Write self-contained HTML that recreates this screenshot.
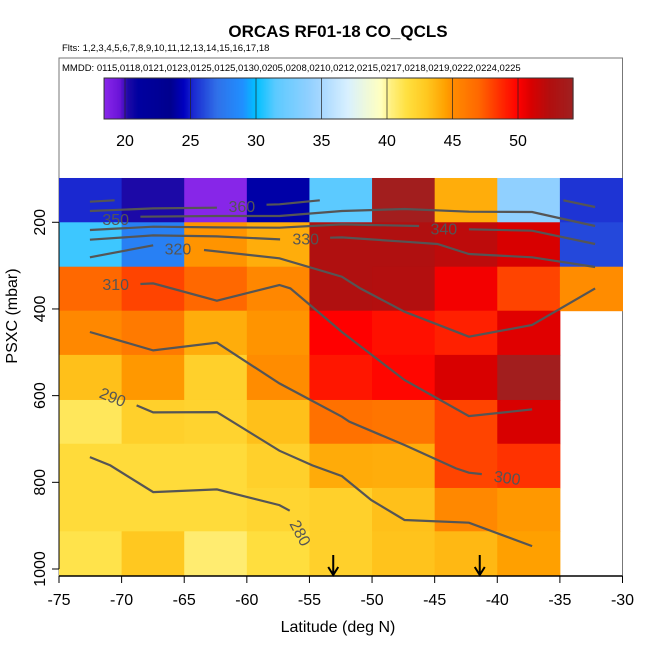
<!DOCTYPE html>
<html><head><meta charset="utf-8"><style>
body{margin:0;background:#fff}
svg{display:block;font-family:"Liberation Sans",sans-serif}
</style></head><body>
<svg id="chart" width="650" height="650" viewBox="0 0 650 650">
<text x="338" y="37" font-size="17" font-weight="bold" text-anchor="middle">ORCAS RF01-18 CO_QCLS</text>
<text x="62" y="51" font-size="9.5">Flts: 1,2,3,4,5,6,7,8,9,10,11,12,13,14,15,16,17,18</text>
<rect x="59" y="58" width="563.5" height="518" fill="none" stroke="#777" stroke-width="1"/>
<text x="62" y="71" font-size="9.5">MMDD: 0115,0118,0121,0123,0125,0125,0130,0205,0208,0210,0212,0215,0217,0218,0219,0222,0224,0225</text>
<g id="cbar"></g>
<g id="cells"></g>
<g id="contours"></g>
<g id="axes"></g>
<text x="338" y="632" font-size="16" text-anchor="middle">Latitude (deg N)</text>
<text transform="translate(17,316) rotate(-90)" font-size="16" text-anchor="middle">PSXC (mbar)</text>
</svg>
<script>
const latEdges = [-75,-70,-65,-60,-55,-50,-45,-40,-35,-30];
const presEdges = [97.8,200,302.5,404,506,610,711,813,913,1016];
const coValues = [
 [25.2,20.3,18.5,24.0,31.5,54.0,44.0,34.0,25.5],
 [31.0,28.0,44.8,44.0,52.5,52.5,52.0,51.0,26.0],
 [47.0,48.0,47.0,45.3,52.5,52.4,50.3,48.0,45.0],
 [45.2,46.0,44.0,44.8,50.0,49.5,49.0,50.8,null],
 [43.3,44.7,42.5,45.0,49.3,49.8,51.0,54.0,null],
 [41.0,42.5,42.3,43.3,46.5,46.3,48.0,51.0,null],
 [41.8,41.8,41.8,42.5,44.1,44.0,48.0,48.5,null],
 [41.8,41.8,41.8,42.2,42.5,43.3,45.2,44.7,null],
 [41.3,43.0,40.6,41.6,42.5,43.2,43.6,44.5,null]
];
const xTicks = [-75,-70,-65,-60,-55,-50,-45,-40,-35,-30];
const yTicks = [200,400,600,800,1000];
const cbTicks = [20,25,30,35,40,45,50];
const arrowLats = [-53.1,-41.4];
const contourLevels = [360,360,360,360,350,340,340,330,330,320,320,310,300,290,280];
const contourLats = [
 [-72.53,-70.56],
 [-72.53,-67.48,-62.39],
 [-58.43,-57.4,-54.17],
 [-34.72,-32.19],
 [-68.5,-62.39,-57.4,-52.41,-47.41,-42.27,-37.22,-34.72,-32.19],
 [-72.53,-67.48,-62.39,-57.4,-52.41,-46.24],
 [-42.27,-37.22,-32.19],
 [-72.53,-67.48,-62.39,-57.34],
 [-53.35,-52.41,-47.41,-44.77,-42.27,-37.22,-32.19],
 [-72.53,-67.48],
 [-63.42,-57.4,-52.41,-50.94,-47.41,-42.27,-37.22,-32.19],
 [-68.5,-67.48,-62.39,-57.4,-56.52,-52.41,-47.41,-42.27,-37.22],
 [-72.53,-67.48,-62.39,-57.4,-52.41,-51.82,-47.41,-43.3,-42.27,-41.24],
 [-68.8,-67.48,-62.39,-57.4,-54.76,-52.41,-50.06,-47.41,-42.27,-37.22],
 [-72.53,-70.9,-67.48,-62.39,-57.4,-56.58]
];
const contourPres = [
 [152.5,149.4],
 [174,167.9,166.3],
 [159.4,158.6,149.4],
 [149.4,164.8],
 [187.1,185.6,185.6,174,169.4,175.6,176.3,192.5,208.6],
 [217.9,210.2,211.7,212.5,204.8,208.6],
 [216.3,219.4,250.2],
 [240.2,230.2,232.5,239.4],
 [235.6,234.8,244.8,250.2,273.2,280.9,303.2],
 [280.9,253.2],
 [264,283.2,325.6,352.5,406.3,464,437.1,352.5],
 [342.5,341,381,344.8,352.5,453.2,564,647.1,631.7],
 [453.2,495.6,477.9,571.7,648.6,660.2,714,767.9,777.9,781],
 [622.5,638.6,637.9,727.1,761,785.6,841,887,893.2,947.1],
 [741.7,761,822.5,816.3,852.5,865.5]
];
const labelText = ["360","350","340","330","320","310","300","290","280"];
const labelLat = [-60.4,-70.47,-44.27,-55.3,-65.5,-70.47,-39.2,-70.7,-55.7];
const labelPres = [162.5,192.5,214,237,260.2,342.5,788.6,602.5,916.3];
const labelRot = [0,0,0,0,0,0,8,22,62];

const NS="http://www.w3.org/2000/svg";
function X(lat){return 59+(lat+75)*(563.5/45);}
function Y(p){return 135.6+0.4334*p;}
function CB(v){return 125+(v-20)*(393/30);}
const stops=[[18.4,"#8a28ea"],[19.6,"#6a14d8"],[20.2,"#200aa8"],[21,"#0000a0"],[23.5,"#00008e"],[24.5,"#0000c0"],[25.2,"#1a28d0"],[27,"#3070e8"],[29,"#2090ff"],[30,"#00c0ff"],[31.5,"#5ccaff"],[34,"#90d0ff"],[35,"#a8d8ff"],[37,"#d8f0ff"],[39.5,"#ffffc0"],[40.3,"#fff080"],[41.5,"#ffe040"],[43,"#ffc820"],[44.5,"#ffa000"],[45,"#ff8c00"],[47,"#ff6800"],[49,"#ff2000"],[50,"#ff0000"],[51,"#d80000"],[52.5,"#b01010"],[54.2,"#a02020"]];
function hex(h){return [1,3,5].map(i=>parseInt(h.substr(i,2),16));}
function cmap(v){
 if(v<=stops[0][0])return stops[0][1];
 for(let i=1;i<stops.length;i++){if(v<=stops[i][0]){const a=stops[i-1],b=stops[i];const t=(v-a[0])/(b[0]-a[0]);const ca=hex(a[1]),cb=hex(b[1]);return "rgb("+ca.map((c,k)=>Math.round(c+(cb[k]-c)*t)).join(",")+")";}}
 return stops[stops.length-1][1];
}
function mk(tag,attrs,parent){const e=document.createElementNS(NS,tag);for(const k in attrs)e.setAttribute(k,attrs[k]);parent.appendChild(e);return e;}

// colorbar
const cbar=document.getElementById('cbar');
for(let v=18.4;v<54.2;v+=0.1){
 const r=mk('rect',{x:CB(v),y:78,width:393/30*0.1+0.6,height:41,fill:cmap(v+0.05)},cbar);
 
 
}
const cbf=mk('rect',{x:CB(18.4),y:78,width:CB(54.2)-CB(18.4),height:41,fill:"none",stroke:"#333"},cbar);


cbTicks.forEach(t=>{
 const l=mk('line',{x1:CB(t),x2:CB(t),y1:78,y2:119,stroke:"#222","stroke-opacity":0.7},cbar);
 
 
 const tx=mk('text',{x:CB(t),y:146,"font-size":16,"text-anchor":"middle"},cbar);
 tx.textContent=t;
 
 
});

// heatmap
const cells=document.getElementById('cells');
coValues.forEach((row,i)=>row.forEach((v,j)=>{
 if(v===null)return;
 const x0=X(latEdges[j]),x1=X(latEdges[j+1]),y0=Y(presEdges[i]),y1=Y(presEdges[i+1]);
 const r=mk('rect',{x:x0,y:y0,width:x1-x0+0.5,height:y1-y0+0.5,fill:cmap(v)},cells);
 
 
}));

// contours
const cg=document.getElementById('contours');
contourLats.forEach((lats,i)=>{
 const pts=lats.map((la,k)=>X(la).toFixed(1)+","+Y(contourPres[i][k]).toFixed(1)).join(" ");
 const pl=mk('polyline',{points:pts,fill:"none",stroke:"#555","stroke-width":2.2},cg);
 
 
});
labelText.forEach((t,i)=>{
 const x=X(labelLat[i]),y=Y(labelPres[i]);
 const tx=mk('text',{x:x,y:y+6,"font-size":16,fill:"#555","text-anchor":"middle",transform:"rotate("+labelRot[i]+" "+x+" "+y+")"},cg);
 tx.textContent=t;
 
 
});
arrowLats.forEach(la=>{
 const x=X(la);
 const a=mk('path',{d:"M"+x+" 555 L"+x+" 575 M"+(x-5)+" 567 L"+x+" 575 L"+(x+5)+" 567",stroke:"#000","stroke-width":2,fill:"none"},cg);
 
 
});

// axes
const ax=document.getElementById('axes');
mk('line',{x1:59,x2:622.5,y1:576,y2:576,stroke:"#000","stroke-width":1.5},ax);
mk('line',{x1:59,x2:59,y1:Y(200),y2:Y(1000),stroke:"#000"},ax);
xTicks.forEach(t=>{
 const l=mk('line',{x1:X(t),x2:X(t),y1:576,y2:583,stroke:"#000"},ax);
 
 
 const tx=mk('text',{x:X(t),y:605,"font-size":16,"text-anchor":"middle"},ax);
 tx.textContent=t;
 
 
});
yTicks.forEach(t=>{
 const l=mk('line',{x1:52,x2:59,y1:Y(t),y2:Y(t),stroke:"#000"},ax);
 
 
 const tx=mk('text',{x:0,y:0,"font-size":16,"text-anchor":"middle",transform:"translate(45,"+Y(t)+") rotate(-90)"},ax);
 tx.textContent=t;
 
 
});
</script>
</body></html>
